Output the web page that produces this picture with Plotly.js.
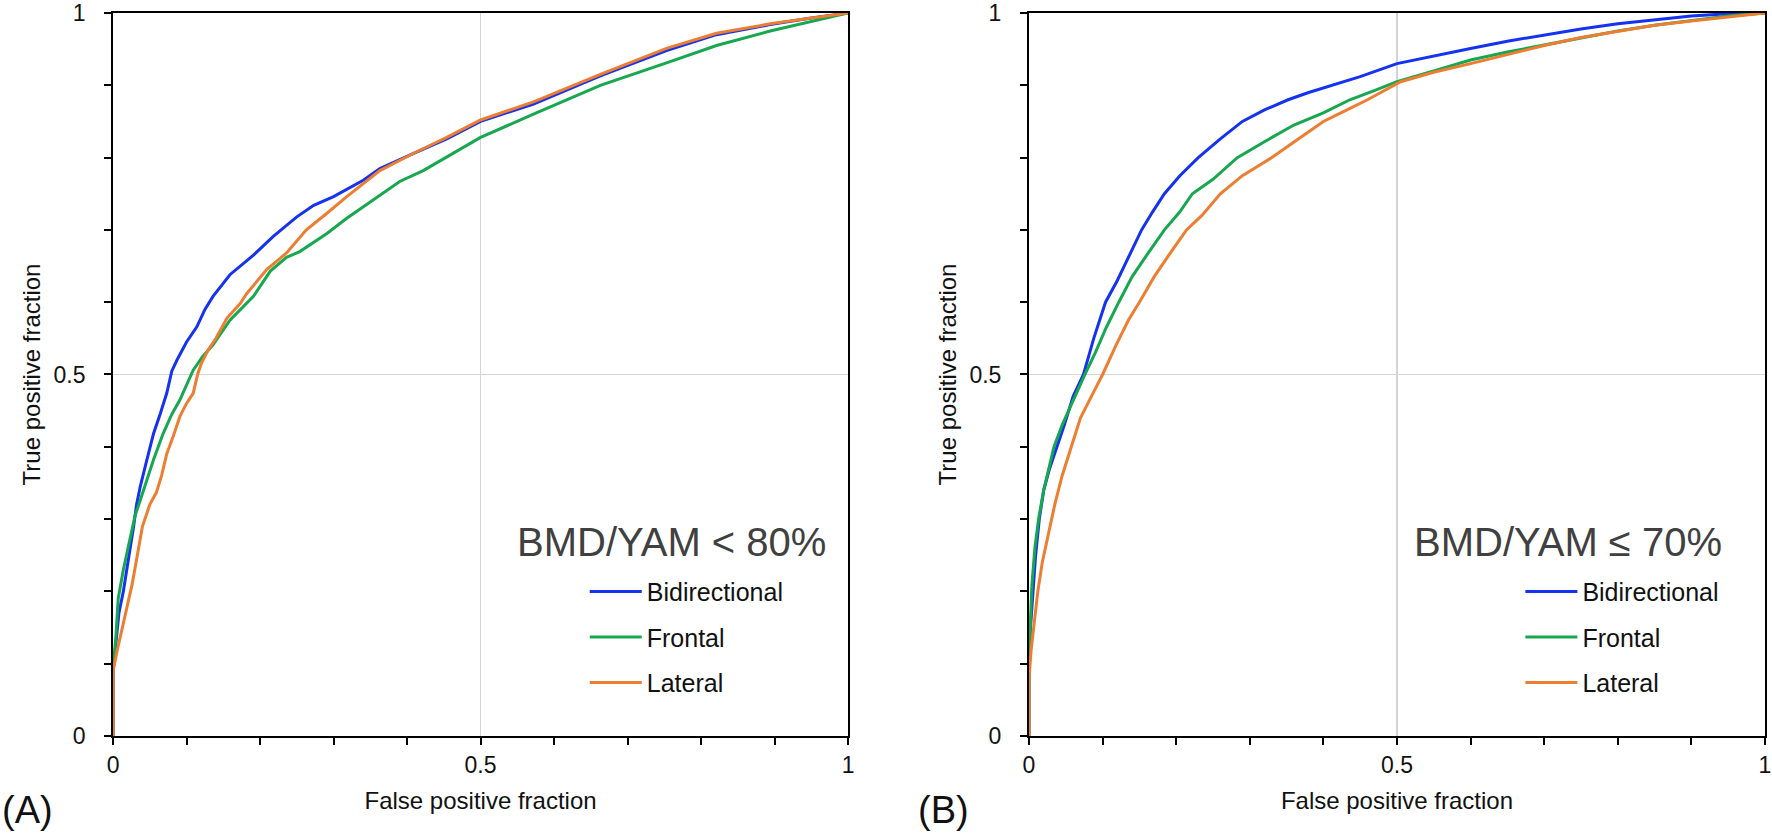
<!DOCTYPE html>
<html>
<head>
<meta charset="utf-8">
<script src="https://cdn.plot.ly/plotly-3.0.1.min.js"></script>
<style>
  html, body { margin: 0; padding: 0; background: #fff; }
  #chart { width: 1772px; height: 839px; }
</style>
</head>
<body>
<div id="chart"></div>
<script>
"use strict"
// ROC curves, panel A (BMD/YAM < 80%)
let aBidirX = [0, 0, 0.004, 0.008, 0.014, 0.022, 0.028, 0.032, 0.037, 0.046, 0.055, 0.064, 0.073, 0.08, 0.087, 0.1, 0.114, 0.125, 0.136, 0.159, 0.191, 0.218, 0.25, 0.273, 0.3, 0.341, 0.363, 0.409, 0.454, 0.5, 0.572, 0.663, 0.753, 0.821, 0.894, 0.95, 1];
let aBidirY = [0, 0.09, 0.13, 0.17, 0.2, 0.25, 0.29, 0.32, 0.345, 0.382, 0.418, 0.445, 0.474, 0.505, 0.52, 0.545, 0.566, 0.59, 0.608, 0.638, 0.665, 0.691, 0.718, 0.734, 0.746, 0.769, 0.785, 0.806, 0.826, 0.85, 0.874, 0.913, 0.948, 0.97, 0.984, 0.993, 1];
let aFrontX = [0, 0, 0.004, 0.007, 0.014, 0.022, 0.03, 0.037, 0.046, 0.055, 0.068, 0.08, 0.091, 0.1, 0.109, 0.122, 0.136, 0.159, 0.191, 0.214, 0.236, 0.254, 0.291, 0.318, 0.354, 0.39, 0.422, 0.454, 0.5, 0.572, 0.663, 0.753, 0.821, 0.894, 0.95, 1];
let aFrontY = [0, 0.09, 0.14, 0.19, 0.23, 0.27, 0.305, 0.326, 0.355, 0.382, 0.418, 0.445, 0.465, 0.485, 0.506, 0.525, 0.541, 0.575, 0.608, 0.643, 0.662, 0.67, 0.695, 0.716, 0.741, 0.767, 0.782, 0.801, 0.828, 0.86, 0.9, 0.931, 0.955, 0.975, 0.988, 1];
let aLatX = [0, 0, 0.006, 0.014, 0.019, 0.026, 0.033, 0.04, 0.05, 0.059, 0.066, 0.073, 0.082, 0.091, 0.1, 0.109, 0.115, 0.12, 0.13, 0.14, 0.155, 0.173, 0.182, 0.209, 0.236, 0.263, 0.291, 0.318, 0.363, 0.409, 0.454, 0.5, 0.572, 0.663, 0.753, 0.821, 0.894, 0.95, 1];
let aLatY = [0, 0.09, 0.12, 0.155, 0.175, 0.21, 0.25, 0.29, 0.32, 0.337, 0.36, 0.39, 0.415, 0.442, 0.46, 0.474, 0.5, 0.515, 0.535, 0.55, 0.578, 0.598, 0.612, 0.645, 0.668, 0.7, 0.723, 0.746, 0.782, 0.806, 0.828, 0.852, 0.877, 0.915, 0.951, 0.972, 0.985, 0.993, 1];

// panel B (BMD/YAM <= 70%)
let bBidirX = [0, 0, 0.002, 0.005, 0.009, 0.014, 0.02, 0.028, 0.038, 0.048, 0.06, 0.074, 0.088, 0.104, 0.12, 0.136, 0.153, 0.168, 0.184, 0.205, 0.23, 0.26, 0.29, 0.32, 0.352, 0.38, 0.413, 0.45, 0.5, 0.55, 0.6, 0.65, 0.7, 0.75, 0.8, 0.85, 0.9, 0.95, 1];
let bBidirY = [0, 0.1, 0.15, 0.2, 0.25, 0.3, 0.34, 0.37, 0.4, 0.43, 0.47, 0.5, 0.55, 0.6, 0.63, 0.665, 0.7, 0.725, 0.75, 0.775, 0.8, 0.826, 0.85, 0.866, 0.88, 0.89, 0.9, 0.912, 0.93, 0.941, 0.951, 0.961, 0.97, 0.978, 0.985, 0.991, 0.996, 0.999, 1];
let bFrontX = [0, 0, 0.002, 0.004, 0.008, 0.013, 0.02, 0.027, 0.034, 0.045, 0.058, 0.076, 0.09, 0.105, 0.122, 0.14, 0.16, 0.184, 0.205, 0.222, 0.25, 0.283, 0.32, 0.36, 0.4, 0.436, 0.47, 0.5, 0.55, 0.6, 0.65, 0.7, 0.75, 0.8, 0.85, 0.9, 0.95, 1];
let bFrontY = [0, 0.1, 0.16, 0.21, 0.26, 0.3, 0.34, 0.37, 0.4, 0.43, 0.46, 0.5, 0.53, 0.565, 0.6, 0.635, 0.665, 0.7, 0.725, 0.75, 0.77, 0.8, 0.822, 0.845, 0.862, 0.88, 0.893, 0.905, 0.92, 0.935, 0.946, 0.956, 0.966, 0.975, 0.983, 0.99, 0.996, 1];
let bLatX = [0, 0, 0.003, 0.007, 0.012, 0.018, 0.026, 0.035, 0.045, 0.057, 0.07, 0.085, 0.1, 0.118, 0.135, 0.15, 0.17, 0.19, 0.214, 0.235, 0.26, 0.29, 0.33, 0.365, 0.4, 0.43, 0.46, 0.505, 0.55, 0.6, 0.65, 0.7, 0.75, 0.8, 0.85, 0.9, 0.95, 1];
let bLatY = [0, 0.08, 0.12, 0.16, 0.2, 0.24, 0.28, 0.32, 0.36, 0.4, 0.44, 0.47, 0.5, 0.54, 0.575, 0.6, 0.635, 0.665, 0.7, 0.72, 0.75, 0.775, 0.8, 0.825, 0.85, 0.865, 0.88, 0.905, 0.918, 0.93, 0.943, 0.955, 0.966, 0.975, 0.983, 0.989, 0.995, 1];

let seriesNames = ["Bidirectional", "Frontal", "Lateral"];
let seriesColors = ["#1432f0", "#17a74e", "#ed7d31"];
let tickVals = [0, 0.5, 1];
let tickText = ["0", "0.5", "1"];
let panelLabels = ["(A)", "(B)"];
let panelTitles = ["BMD/YAM < 80%", "BMD/YAM \u2264 70%"];

const FONT = "Liberation Sans, Arial, sans-serif";

function roc(x, y, i, xa, ya, leg) {
    return {
        x: x, y: y, type: "scatter", mode: "lines",
        name: seriesNames[i], xaxis: xa, yaxis: ya,
        legend: leg, legendgroup: leg + i,
        line: { color: seriesColors[i], width: 3 },
        hoverinfo: "skip"
    };
}

let data = [
    roc(aBidirX, aBidirY, 0, "x", "y", "legend"),
    roc(aFrontX, aFrontY, 1, "x", "y", "legend"),
    roc(aLatX, aLatY, 2, "x", "y", "legend"),
    roc(bBidirX, bBidirY, 0, "x2", "y2", "legend2"),
    roc(bFrontX, bFrontY, 1, "x2", "y2", "legend2"),
    roc(bLatX, bLatY, 2, "x2", "y2", "legend2")
];

// common axis look: labels only at 0 / 0.5 / 1, small ticks every 0.1
function baseAxis() {
    return {
        range: [0, 1],
        tickvals: tickVals, ticktext: tickText,
        ticks: "outside", ticklen: 7, tickwidth: 2, tickcolor: "#000",
        minor: { dtick: 0.1, tick0: 0, ticks: "outside", ticklen: 7, tickwidth: 2, tickcolor: "#000", showgrid: false },
        showline: true, linecolor: "#000", linewidth: 2, mirror: true,
        showgrid: true, gridcolor: "#d4d4d4", gridwidth: 1.5, zeroline: false,
        tickfont: { family: FONT, size: 23, color: "#111" },
        automargin: false, fixedrange: true
    };
}
function xAxis(dom, anchor) {
    let ax = baseAxis();
    ax.domain = dom;
    ax.anchor = anchor;
    ax.ticklabelstandoff = 0;
    ax.title = { text: "False positive fraction", font: { family: FONT, size: 24, color: "#111" }, standoff: 16 };
    return ax;
}
function yAxis(anchor) {
    let ax = baseAxis();
    ax.domain = [0.1228, 0.9845];
    ax.anchor = anchor;
    ax.ticklabelstandoff = 14;
    ax.title = { text: "True positive fraction", font: { family: FONT, size: 24, color: "#111" }, standoff: 6 };
    return ax;
}

function legendBox(x) {
    return {
        x: x, y: 0.322, xanchor: "left", yanchor: "top",
        bgcolor: "rgba(0,0,0,0)", borderwidth: 0,
        font: { family: FONT, size: 25, color: "#111" },
        itemwidth: 52, tracegroupgap: 10, itemclick: false, itemdoubleclick: false
    };
}

let layout = {
    width: 1772, height: 839,
    margin: { l: 0, r: 0, t: 0, b: 0 },
    paper_bgcolor: "#fff", plot_bgcolor: "#fff",
    showlegend: true,
    xaxis: xAxis([0.0638, 0.4786], "y"),
    yaxis: yAxis("x"),
    xaxis2: xAxis([0.5807, 0.9960], "y2"),
    yaxis2: yAxis("x2"),
    legend: legendBox(0.330),
    legend2: legendBox(0.858),
    annotations: [
        { xref: "x", yref: "y", x: 0.973, y: 0.268, xanchor: "right", yanchor: "middle", showarrow: false,
          text: panelTitles[0], font: { family: FONT, size: 40, color: "#404040" } },
        { xref: "x2", yref: "y2", x: 0.944, y: 0.268, xanchor: "right", yanchor: "middle", showarrow: false,
          text: panelTitles[1], font: { family: FONT, size: 40, color: "#404040" } },
        { xref: "paper", yref: "paper", x: 0.0, y: 0.0346, xanchor: "left", yanchor: "middle", showarrow: false,
          text: panelLabels[0], font: { family: FONT, size: 38, color: "#111" } },
        { xref: "paper", yref: "paper", x: 0.517, y: 0.0346, xanchor: "left", yanchor: "middle", showarrow: false,
          text: panelLabels[1], font: { family: FONT, size: 38, color: "#111" } }
    ]
};

Plotly.newPlot("chart", data, layout, { displayModeBar: false, staticPlot: true });
</script>
</body>
</html>
